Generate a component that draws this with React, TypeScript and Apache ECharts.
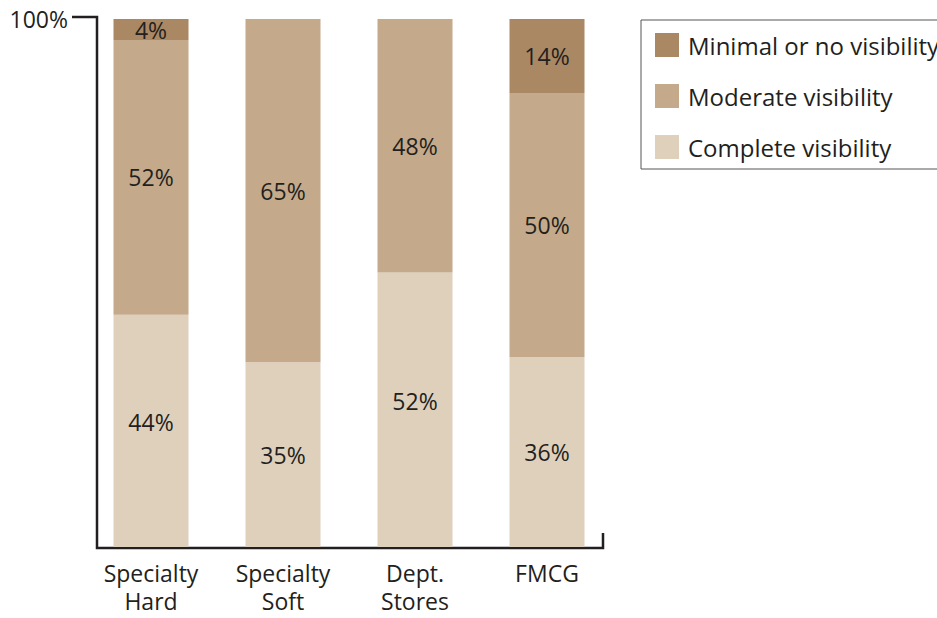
import React, { useEffect, useRef } from "react";
import * as echarts from "echarts";

const categories = ["Specialty\nHard", "Specialty\nSoft", "Dept.\nStores", "FMCG"];
const completeVisibility = [44, 35, 52, 36];
const moderateVisibility = [52, 65, 48, 50];
const minimalVisibility = [4, 0, 0, 14];
const yTickLabels = [100];

const FONT = "'Open Sans', 'Noto Sans', sans-serif";
const INK = "#231f20";
const C_MIN = "#aa8864";
const C_MOD = "#c4aa8a";
const C_COM = "#dfd0bc";

export default function App() {
  const ref = useRef<HTMLDivElement>(null);
  useEffect(() => {
    if (!ref.current) return;
    const chart = echarts.init(ref.current, null, { renderer: "svg" });
    const label = {
      show: true,
      position: "inside",
      fontFamily: FONT,
      fontSize: 23,
      color: INK,
      formatter: (p: any) => (p.value ? p.value + "%" : ""),
    };
    const mk = (name: string, data: number[], color: string, lift?: number[]) => ({
      name,
      type: "bar",
      stack: "total",
      data: data.map((v, i) =>
        lift && lift[i] ? { value: v, label: { offset: [0, -lift[i]] } } : v
      ),
      barWidth: 75,
      itemStyle: { color },
      label,
      emphasis: { disabled: true },
    });
    chart.setOption({
      animation: false,
      textStyle: { fontFamily: FONT },
      grid: { left: 85, right: 324, top: 19, bottom: 71 },
      xAxis: {
        type: "category",
        data: categories,
        axisLine: { show: false },
        axisTick: { show: false },
        axisLabel: {
          fontFamily: FONT,
          fontSize: 23,
          color: INK,
          lineHeight: 28,
          margin: 12,
          interval: 0,
        },
      },
      yAxis: {
        type: "value",
        min: 0,
        max: 100,
        interval: 100,
        splitLine: { show: false },
        axisLine: { show: false },
        axisTick: { show: false },
        axisLabel: {
          customValues: yTickLabels,
          formatter: (v: number) => v + "%",
          fontFamily: FONT,
          fontSize: 23,
          color: INK,
          margin: 17,
          padding: [6, 0, 0, 0],
        },
      },
      legend: {
        orient: "vertical",
        left: 641,
        top: 20,
        data: ["Minimal or no visibility", "Moderate visibility", "Complete visibility"],
        icon: "rect",
        itemWidth: 24,
        itemHeight: 24,
        itemGap: 27,
        borderColor: "#555",
        borderWidth: 1,
        padding: [13, 60, 10, 14],
        textStyle: {
          fontFamily: FONT,
          fontSize: 24,
          lineHeight: 24,
          color: INK,
          padding: [0, 0, 0, 4],
        },
        selectedMode: false,
      },
      graphic: [
        {
          type: "polyline",
          shape: {
            points: [
              [72, 17],
              [97, 17],
              [97, 548],
              [603, 548],
              [603, 533],
            ],
          },
          style: { stroke: INK, lineWidth: 2.5, fill: null },
          silent: true,
        },
      ],
      series: [
        mk("Complete visibility", completeVisibility, C_COM, [9, 0, 9, 0]),
        mk("Moderate visibility", moderateVisibility, C_MOD),
        mk("Minimal or no visibility", minimalVisibility, C_MIN),
      ],
    });
    return () => chart.dispose();
  }, []);
  return <div ref={ref} style={{ width: 937, height: 618, position: "absolute", left: 0, top: 0 }} />;
}
